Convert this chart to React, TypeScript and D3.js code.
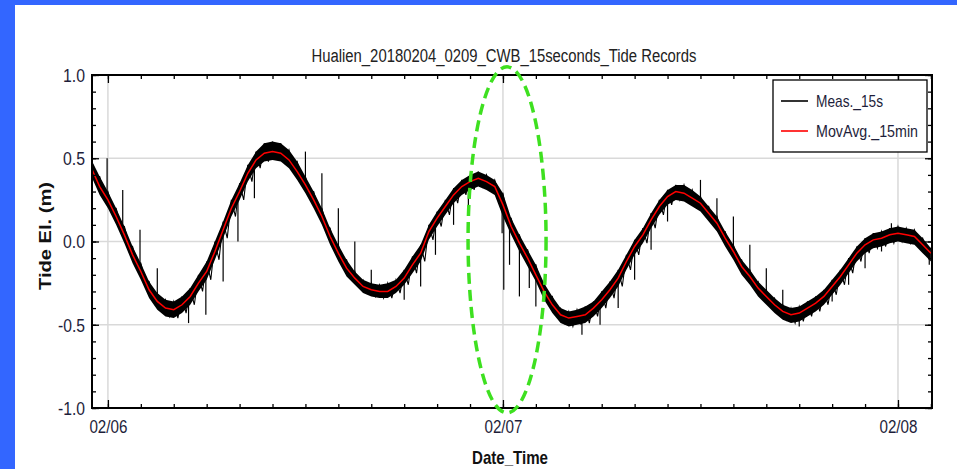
import { useEffect, useRef } from "react";
import * as d3 from "d3";

const chartTitle = "Hualien_20180204_0209_CWB_15seconds_Tide Records";
const seriesNames = ["Meas._15s", "MovAvg._15min"];
const yLabel = "Tide El. (m)";
const xLabel = "Date_Time";
const yMajorTicks = [-1.0, -0.5, 0.0, 0.5, 1.0];

// samples every 30 min, starting 02/05 23:00
const startTime = new Date(2018, 1, 5, 23, 0);
const stepMinutes = 30;

const movAvg = [
  0.44, 0.33, 0.25, 0.15, 0.04, -0.08, -0.18, -0.29, -0.36, -0.4,
  -0.41, -0.38, -0.33, -0.25, -0.18, -0.06, 0.07, 0.2, 0.3, 0.41,
  0.49, 0.53, 0.54, 0.53, 0.49, 0.42, 0.34, 0.25, 0.15, 0.03,
  -0.07, -0.16, -0.22, -0.27, -0.29, -0.3, -0.3, -0.27, -0.22, -0.14,
  -0.07, 0.06, 0.14, 0.21, 0.28, 0.33, 0.36, 0.38, 0.36, 0.33,
  0.22, 0.09, -0.01, -0.1, -0.2, -0.3, -0.38, -0.44, -0.46, -0.45,
  -0.44, -0.4, -0.35, -0.29, -0.22, -0.12, -0.03, 0.04, 0.13, 0.21,
  0.27, 0.3, 0.29, 0.26, 0.23, 0.17, 0.11, 0.02, -0.06, -0.15,
  -0.21, -0.28, -0.33, -0.38, -0.42, -0.44, -0.43, -0.4, -0.37, -0.33,
  -0.27, -0.21, -0.14, -0.07, -0.02, 0.01, 0.02, 0.04, 0.05, 0.04,
  0.03, -0.02, -0.07,
];

// upper and lower edge of the dense 15 s record, same 30 min steps
const measHigh = [
  0.49, 0.39, 0.3, 0.2, 0.09, -0.03, -0.13, -0.24, -0.31, -0.35,
  -0.36, -0.33, -0.28, -0.2, -0.12, 0.0, 0.12, 0.25, 0.35, 0.46,
  0.54, 0.59, 0.6, 0.59, 0.55, 0.48, 0.39, 0.3, 0.2, 0.08,
  -0.02, -0.11, -0.18, -0.23, -0.25, -0.26, -0.25, -0.23, -0.17, -0.09,
  -0.02, 0.1, 0.18, 0.25, 0.32, 0.37, 0.4, 0.42, 0.4, 0.37,
  0.29, 0.14, 0.04, -0.05, -0.14, -0.25, -0.33, -0.4, -0.42, -0.41,
  -0.39, -0.36, -0.3, -0.24, -0.17, -0.08, 0.01, 0.08, 0.17, 0.25,
  0.31, 0.34, 0.34, 0.31, 0.27, 0.21, 0.15, 0.06, -0.02, -0.11,
  -0.17, -0.24, -0.29, -0.34, -0.38, -0.4, -0.39, -0.36, -0.33, -0.29,
  -0.23, -0.17, -0.1, -0.03, 0.02, 0.05, 0.06, 0.08, 0.09, 0.08,
  0.07, 0.02, -0.04,
];

const measLow = [
  0.39, 0.28, 0.2, 0.1, -0.01, -0.13, -0.23, -0.34, -0.41, -0.45,
  -0.46, -0.43, -0.38, -0.3, -0.23, -0.11, 0.02, 0.15, 0.25, 0.36,
  0.44, 0.48, 0.49, 0.48, 0.44, 0.37, 0.29, 0.2, 0.1, -0.02,
  -0.12, -0.21, -0.26, -0.31, -0.33, -0.34, -0.34, -0.31, -0.26, -0.19,
  -0.12, 0.01, 0.09, 0.16, 0.23, 0.28, 0.31, 0.33, 0.31, 0.28,
  0.15, 0.04, -0.06, -0.15, -0.24, -0.35, -0.43, -0.49, -0.51, -0.5,
  -0.49, -0.45, -0.4, -0.34, -0.27, -0.17, -0.08, -0.01, 0.08, 0.16,
  0.22, 0.25, 0.24, 0.21, 0.18, 0.12, 0.06, -0.03, -0.11, -0.2,
  -0.26, -0.33, -0.38, -0.43, -0.47, -0.49, -0.48, -0.45, -0.42, -0.38,
  -0.32, -0.26, -0.19, -0.12, -0.07, -0.04, -0.03, -0.01, 0.0, -0.01,
  -0.02, -0.07, -0.12,
];

// single-sample spikes: [hours after 02/06 00:00, tide elevation]
const spikes: [number, number][] = [
  [-0.05, 0.5], [0.9, 0.31], [1.95, 0.07], [3.0, -0.16], [4.9, -0.49],
  [5.95, -0.44], [7.0, -0.24], [7.9, 0.0], [8.9, 0.26], [12.0, 0.54],
  [13.0, 0.41], [14.0, 0.2], [15.0, 0.0], [16.0, -0.17], [18.0, -0.35],
  [19.0, -0.27], [19.9, -0.08], [21.0, 0.1], [21.9, 0.19], [23.95, 0.05],
  [24.05, -0.29], [24.4, -0.14], [25.0, -0.33], [25.6, -0.28], [26.0, -0.39],
  [28.8, -0.56], [29.9, -0.5], [31.0, -0.4], [32.0, -0.23], [33.0, -0.05],
  [34.0, 0.12], [36.0, 0.37], [37.0, 0.26], [38.0, 0.15], [39.0, -0.02],
  [40.0, -0.16], [41.0, -0.29], [42.0, -0.51], [44.0, -0.36], [45.0, -0.26],
  [46.0, -0.16], [47.0, -0.06], [47.6, 0.11], [49.9, -0.14],
];

export default function App() {
  const svgRef = useRef<SVGSVGElement>(null);

  useEffect(() => {
    if (!svgRef.current) return;
    const W = 957;
    const H = 469;
    const plot = { left: 92, right: 932, top: 75, bottom: 408 };
    const narrow =
      "'Liberation Sans Narrow', 'Arial Narrow', 'Liberation Sans', Arial, sans-serif";
    const ink = "#1e1e3a";

    const svg = d3.select(svgRef.current);
    svg.selectAll("*").remove();
    svg.attr("width", W).attr("height", H).attr("viewBox", `0 0 ${W} ${H}`);

    // Background and blue slide frame
    svg.append("rect").attr("width", W).attr("height", H).attr("fill", "#fff");
    svg.append("rect").attr("width", W).attr("height", 5).attr("fill", "#3366ff");
    svg.append("rect").attr("width", 15).attr("height", H).attr("fill", "#3366ff");

    const day0 = new Date(2018, 1, 6, 0, 0);
    const times = movAvg.map(
      (_, i) => new Date(startTime.getTime() + i * stepMinutes * 60000)
    );

    const x = d3
      .scaleTime()
      .domain([new Date(2018, 1, 5, 23, 2), new Date(2018, 1, 8, 2, 4)])
      .range([plot.left, plot.right]);
    const y = d3.scaleLinear().domain([-1, 1]).range([plot.bottom, plot.top]);

    const days = d3.timeDay.range(day0, new Date(2018, 1, 8, 1));

    // Gridlines
    const grid = svg.append("g").attr("stroke", "#d9d9d9").attr("stroke-width", 1.5);
    grid
      .selectAll("line.h")
      .data(yMajorTicks.filter((d) => Math.abs(d) < 1))
      .join("line")
      .attr("class", "h")
      .attr("x1", plot.left)
      .attr("x2", plot.right)
      .attr("y1", (d) => y(d))
      .attr("y2", (d) => y(d));
    grid
      .selectAll("line.v")
      .data(days)
      .join("line")
      .attr("class", "v")
      .attr("x1", (d) => x(d))
      .attr("x2", (d) => x(d))
      .attr("y1", plot.top)
      .attr("y2", plot.bottom);

    svg
      .append("clipPath")
      .attr("id", "plotClip")
      .append("rect")
      .attr("x", plot.left)
      .attr("y", plot.top)
      .attr("width", plot.right - plot.left)
      .attr("height", plot.bottom - plot.top);

    const data = svg.append("g").attr("clip-path", "url(#plotClip)");

    // Measured 15 s record, drawn as its high/low swing per 30 min step
    const swing: [Date, number][] = [];
    times.forEach((t, i) => {
      swing.push([t, measHigh[i]]);
      swing.push([new Date(t.getTime() + (stepMinutes / 2) * 60000), measLow[i]]);
    });
    const band = d3
      .area<number>()
      .x((_, i) => x(times[i]))
      .y0((_, i) => y(measLow[i]))
      .y1((_, i) => y(measHigh[i]));
    data
      .append("path")
      .datum(movAvg)
      .attr("fill", "#000")
      .attr("d", band);
    data
      .append("path")
      .datum(swing)
      .attr("fill", "none")
      .attr("stroke", "#000")
      .attr("stroke-width", 1.1)
      .attr(
        "d",
        d3
          .line<[Date, number]>()
          .x((d) => x(d[0]))
          .y((d) => y(d[1]))
      );

    // Spikes
    data
      .selectAll("line.spike")
      .data(spikes)
      .join("line")
      .attr("class", "spike")
      .attr("x1", (d) => x(new Date(day0.getTime() + d[0] * 3600000)))
      .attr("x2", (d) => x(new Date(day0.getTime() + d[0] * 3600000)))
      .attr("y1", (d) => y(movAvg[Math.round((d[0] + 1) * 2)]))
      .attr("y2", (d) => y(d[1]))
      .attr("stroke", "#000")
      .attr("stroke-width", 1.2);

    // Moving average
    const line = d3
      .line<number>()
      .x((_, i) => x(times[i]))
      .y((d) => y(d));
    data
      .append("path")
      .datum(movAvg)
      .attr("fill", "none")
      .attr("stroke", "#ff0000")
      .attr("stroke-width", 1.5)
      .attr("d", line);

    // Axes (ticks pointing inward)
    const minorY = d3.range(-10, 11).map((d) => d / 10);
    const fmtY = (d: d3.NumberValue) => (+d).toFixed(1);
    const styleAxis = (g: d3.Selection<SVGGElement, unknown, null, undefined>) => {
      g.select(".domain").remove();
      g.selectAll(".tick line").attr("stroke", "#000").attr("stroke-width", 1.3);
    };

    svg
      .append("g")
      .attr("transform", `translate(${plot.left},0)`)
      .call(d3.axisLeft(y).tickValues(minorY).tickSize(-4).tickFormat(() => ""))
      .call(styleAxis);
    svg
      .append("g")
      .attr("transform", `translate(${plot.left},0)`)
      .call(d3.axisLeft(y).tickValues(yMajorTicks).tickSize(-7).tickPadding(7).tickFormat(fmtY))
      .call(styleAxis)
      .call((g) =>
        g
          .selectAll<SVGTextElement, number>(".tick text")
          .attr("font-family", narrow)
          .attr("font-size", 18)
          .attr("fill", ink)
          .attr("dy", "0.36em")
          .attr("textLength", (d) => (d < 0 ? 27 : 22))
          .attr("lengthAdjust", "spacingAndGlyphs")
      );
    svg
      .append("g")
      .attr("transform", `translate(${plot.right},0)`)
      .call(d3.axisRight(y).tickValues(minorY).tickSize(-4).tickFormat(() => ""))
      .call(styleAxis);
    svg
      .append("g")
      .attr("transform", `translate(${plot.right},0)`)
      .call(d3.axisRight(y).tickValues(yMajorTicks).tickSize(-7).tickFormat(() => ""))
      .call(styleAxis);

    const minorX = d3.timeHour.every(2)!.range(x.domain()[0], x.domain()[1]);
    svg
      .append("g")
      .attr("transform", `translate(0,${plot.bottom})`)
      .call(d3.axisBottom(x).tickValues(minorX).tickSize(-4).tickFormat(() => ""))
      .call(styleAxis);
    svg
      .append("g")
      .attr("transform", `translate(0,${plot.bottom})`)
      .call(
        d3
          .axisBottom(x)
          .tickValues(days)
          .tickSize(-8)
          .tickPadding(12)
          .tickFormat((d) => d3.timeFormat("%m/%d")(d as Date))
      )
      .call(styleAxis)
      .call((g) =>
        g
          .selectAll(".tick text")
          .attr("font-family", narrow)
          .attr("font-size", 18)
          .attr("fill", ink)
          .attr("textLength", 38)
          .attr("lengthAdjust", "spacingAndGlyphs")
      );
    svg
      .append("g")
      .attr("transform", `translate(0,${plot.top})`)
      .call(d3.axisTop(x).tickValues(minorX).tickSize(-4).tickFormat(() => ""))
      .call(styleAxis);
    svg
      .append("g")
      .attr("transform", `translate(0,${plot.top})`)
      .call(d3.axisTop(x).tickValues(days).tickSize(-8).tickFormat(() => ""))
      .call(styleAxis);

    // Frame
    svg
      .append("rect")
      .attr("x", plot.left)
      .attr("y", plot.top)
      .attr("width", plot.right - plot.left)
      .attr("height", plot.bottom - plot.top)
      .attr("fill", "none")
      .attr("stroke", "#000")
      .attr("stroke-width", 2);

    // Title and axis titles
    svg
      .append("text")
      .attr("x", 504)
      .attr("y", 62)
      .attr("text-anchor", "middle")
      .attr("font-family", narrow)
      .attr("font-size", 18)
      .attr("fill", "#222")
      .attr("textLength", 385)
      .attr("lengthAdjust", "spacingAndGlyphs")
      .text(chartTitle);
    svg
      .append("text")
      .attr("transform", "translate(51,236) rotate(-90)")
      .attr("text-anchor", "middle")
      .attr("font-family", narrow)
      .attr("font-weight", "bold")
      .attr("font-size", 17)
      .attr("fill", "#111")
      .attr("textLength", 108)
      .attr("lengthAdjust", "spacingAndGlyphs")
      .text(yLabel);
    svg
      .append("text")
      .attr("x", 510)
      .attr("y", 464)
      .attr("text-anchor", "middle")
      .attr("font-family", narrow)
      .attr("font-weight", "bold")
      .attr("font-size", 19)
      .attr("fill", "#111")
      .attr("textLength", 76)
      .attr("lengthAdjust", "spacingAndGlyphs")
      .text(xLabel);

    // Legend
    const legend = svg.append("g");
    legend
      .append("rect")
      .attr("x", 773)
      .attr("y", 80)
      .attr("width", 154)
      .attr("height", 72)
      .attr("fill", "#fff")
      .attr("stroke", "#000")
      .attr("stroke-width", 1.3);
    const legendColors = ["#000", "#ff0000"];
    const legendWidths = [67, 102];
    seriesNames.forEach((name, i) => {
      const ly = 101 + i * 30;
      legend
        .append("line")
        .attr("x1", 781)
        .attr("x2", 808)
        .attr("y1", ly)
        .attr("y2", ly)
        .attr("stroke", legendColors[i])
        .attr("stroke-width", 1.6);
      legend
        .append("text")
        .attr("x", 816)
        .attr("y", ly + 6)
        .attr("font-family", narrow)
        .attr("font-size", 17)
        .attr("fill", ink)
        .attr("textLength", legendWidths[i])
        .attr("lengthAdjust", "spacingAndGlyphs")
        .text(name);
    });

    // Highlight around the 02/07 disturbance
    svg
      .append("ellipse")
      .attr("cx", x(new Date(2018, 1, 7, 0, 15)))
      .attr("cy", y(0.01))
      .attr("rx", 39)
      .attr("ry", 173)
      .attr("fill", "none")
      .attr("stroke", "#3ee020")
      .attr("stroke-width", 3.5)
      .attr("stroke-dasharray", "11 6");
  }, []);

  return (
    <svg
      ref={svgRef}
      style={{ position: "absolute", left: 0, top: 0, display: "block" }}
      role="img"
      aria-label="Hualien tide records, 15 second measurements and 15 minute moving average, 6 to 8 February 2018"
    />
  );
}
